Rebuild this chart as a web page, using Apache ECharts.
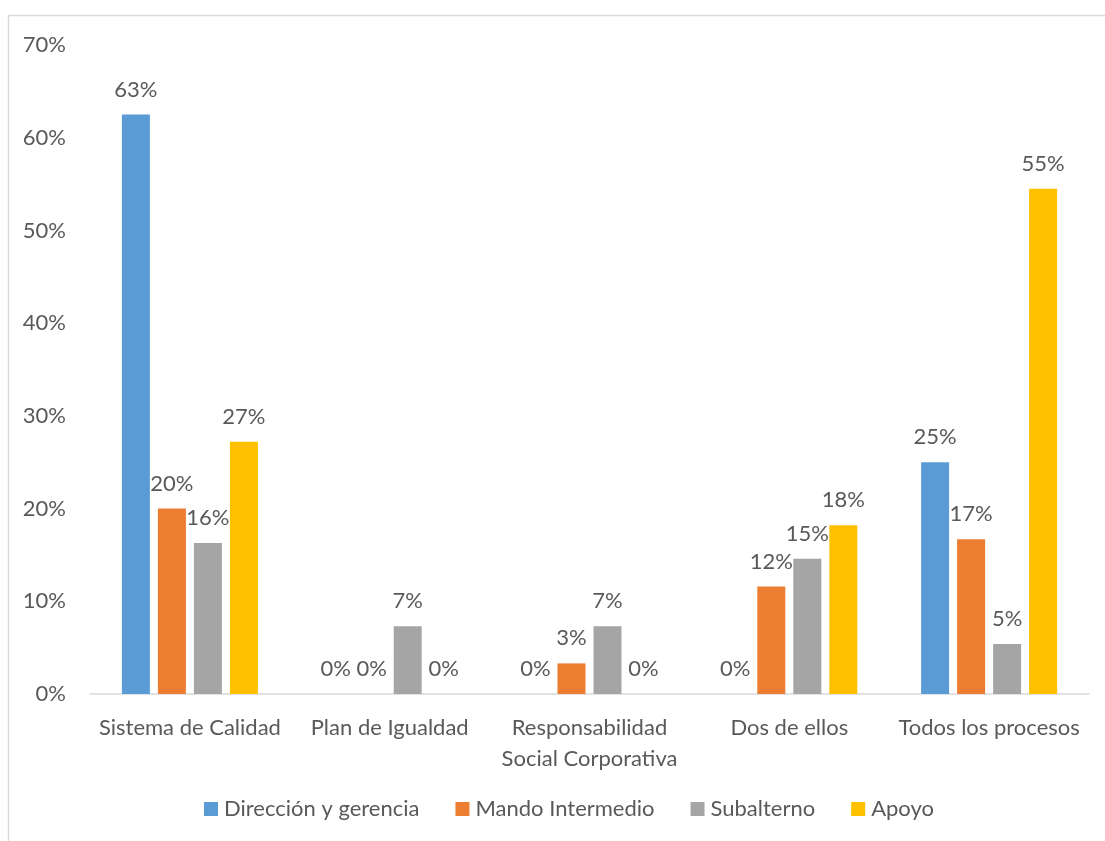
<!DOCTYPE html>
<html>
<head>
<meta charset="utf-8">
<script src="https://cdn.jsdelivr.net/npm/echarts@6/dist/echarts.min.js"></script>
<style>
  html, body { margin: 0; padding: 0; background: #fff; }
  #chart { width: 1105px; height: 841px; }
</style>
</head>
<body>
<div id="chart"></div>
<script>
// Categories and series values (fractions of staff per level)
const categories = ['Sistema de Calidad', 'Plan de Igualdad', 'Responsabilidad\nSocial Corporativa', 'Dos de ellos', 'Todos los procesos'];
const seriesNames = ['Dirección y gerencia', 'Mando Intermedio', 'Subalterno', 'Apoyo'];
const direccion = [0.625, 0, 0, 0, 0.25];
const mando = [0.20, 0, 0.033, 0.116, 0.167];
const subalterno = [0.163, 0.073, 0.073, 0.146, 0.054];
const apoyo = [0.272, 0, 0, 0.182, 0.545];
const colors = ['#5B9BD5', '#ED7D31', '#A5A5A5', '#FFC000'];

const FONT = 'Lato';
const TXT = '#595959';
const FS = 22;

const values = [direccion, mando, subalterno, apoyo];
const pct = v => Math.round(v * 100) + '%';

const chart = echarts.init(document.getElementById('chart'), null, { renderer: 'canvas' });
chart.setOption({
  backgroundColor: '#ffffff',
  animation: false,
  textStyle: { fontFamily: FONT, color: TXT },
  graphic: [{
    type: 'rect',
    shape: { x: 8.5, y: 15.5, width: 1200, height: 900 },
    style: { fill: 'none', stroke: '#D9D9D9', lineWidth: 1.5 },
    silent: true
  }],
  grid: { left: 90, right: 16, top: 45, bottom: 147, containLabel: false },
  legend: {
    bottom: 16,
    left: 199,
    itemWidth: 14,
    itemHeight: 14,
    itemGap: 36,
    icon: 'rect',
    textStyle: { fontFamily: FONT, fontSize: FS, color: TXT, padding: [0, 0, 0, 1] },
    data: seriesNames
  },
  xAxis: {
    type: 'category',
    data: categories,
    axisLine: { lineStyle: { color: '#D9D9D9', width: 1.5 } },
    axisTick: { show: false },
    axisLabel: { fontFamily: FONT, fontSize: FS, color: TXT, margin: 18, lineHeight: 31, interval: 0 }
  },
  yAxis: {
    type: 'value',
    min: 0,
    max: 0.7,
    interval: 0.1,
    axisLine: { show: false },
    axisTick: { show: false },
    splitLine: { show: false },
    axisLabel: { fontFamily: FONT, fontSize: FS, color: TXT, margin: 24, formatter: v => Math.round(v * 100) + '%' }
  },
  series: seriesNames.map((name, i) => ({
    name,
    type: 'bar',
    data: values[i],
    barWidth: 28,
    barGap: '28.6%',
    itemStyle: { color: colors[i] },
    label: {
      show: true,
      position: 'top',
      distance: 14,
      fontFamily: FONT,
      fontSize: FS,
      color: TXT,
      formatter: p => pct(p.value)
    }
  }))
});
</script>
</body>
</html>
